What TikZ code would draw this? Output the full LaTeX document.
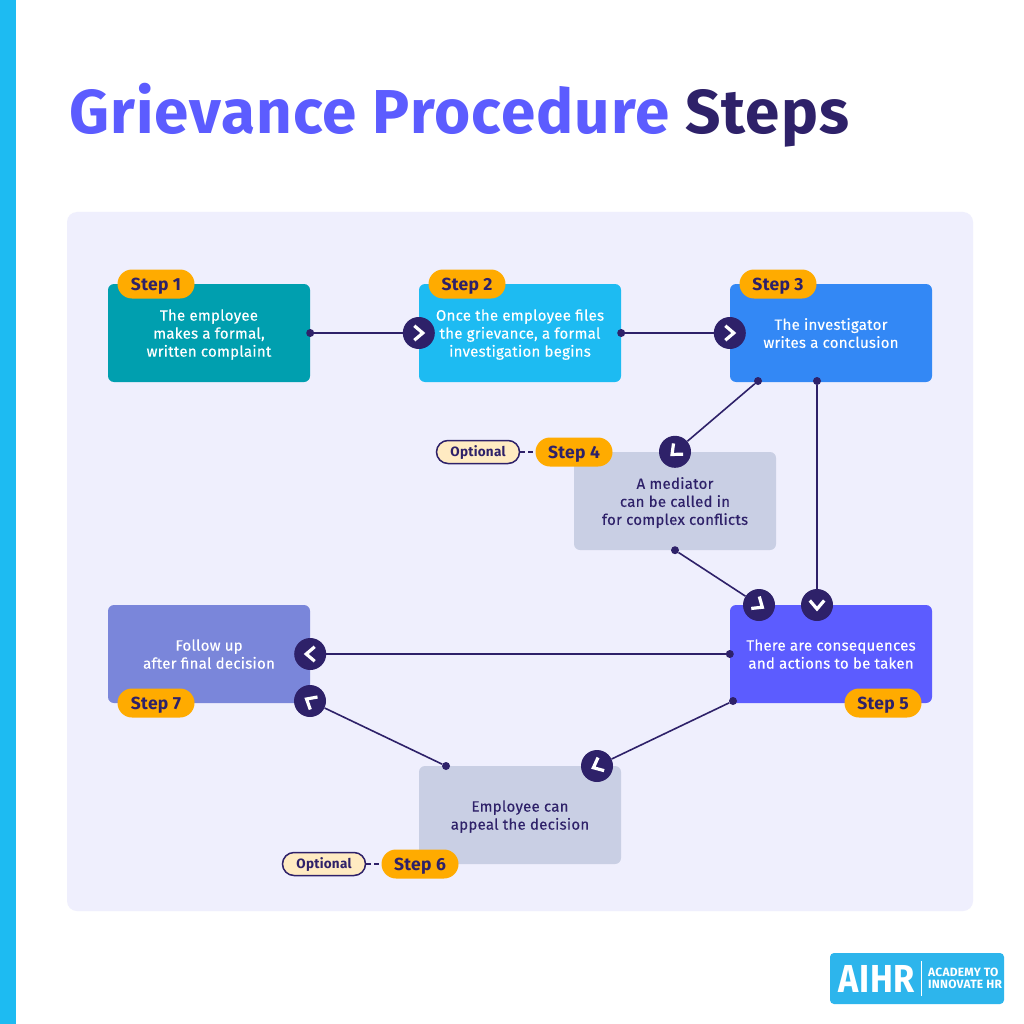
\documentclass[tikz,border=0pt]{standalone}
\usepackage{fontspec}
\setmainfont{Fira Sans}[LetterSpace=1.8]
\usepackage{xcolor}
\usetikzlibrary{positioning}
\definecolor{barblue}{HTML}{1DBBF2}
\definecolor{panel}{HTML}{EFEFFD}
\definecolor{navy}{HTML}{2E2169}
\definecolor{violet0}{HTML}{5C5CFF}
\definecolor{teal0}{HTML}{009FAF}
\definecolor{blue0}{HTML}{3388F5}
\definecolor{grey0}{HTML}{C9CFE4}
\definecolor{peri}{HTML}{7A86DA}
\definecolor{amber}{HTML}{FFAB00}
\definecolor{cream}{HTML}{FFEBC2}
\definecolor{logoblue}{HTML}{2DB5EC}

\begin{document}
\begin{tikzpicture}[x=1pt,y=-1pt,on grid=true,
    stepbox/.style = {rectangle, rounded corners=6pt, minimum width=202pt, minimum height=98pt, inner sep=0pt, align=center, font=\fontsize{15}{18}\selectfont\addfontfeature{FakeBold=0.3}, text=white, text depth=-0.5pt},
    greybox/.style = {stepbox, fill=grey0, text=navy},
    tag/.style = {rectangle, rounded corners=14.5pt, fill=amber, text=navy, minimum width=77pt, minimum height=29pt, inner sep=0pt, text height=14pt, text depth=2pt, font=\fontsize{17.5}{18}\selectfont\bfseries},
    opt/.style = {rectangle, rounded corners=11.5pt, draw=navy, line width=1.5pt, fill=cream, text=navy, minimum width=83pt, minimum height=23pt, inner sep=0pt, text height=10.5pt, text depth=2pt, font=\fontsize{13.5}{15}\selectfont\bfseries},
    dot/.style = {circle, fill=navy, minimum size=8pt, inner sep=0pt},
    chev/.style = {circle, fill=navy, minimum size=32pt, inner sep=0pt},
    link/.style = {draw=navy, line width=1.6pt}]
  \useasboundingbox (0,0) rectangle (1024,1024);
  \fill[white] (0,0) rectangle (1024,1024);
  \fill[barblue] (0,0) rectangle (16,1024);
  \fill[panel,rounded corners=10pt] (67,212) rectangle (973,911);

  \node[anchor=base west,inner sep=0pt,font=\fontsize{62}{66}\selectfont\bfseries,text=violet0] (title) at (69,134) {Grievance Procedure \textcolor{navy}{Steps}};

  \node[stepbox,fill=teal0] (s1) at (209,333) {The employee\\makes a formal,\\written complaint};
  \node[stepbox,fill=barblue] (s2) [right=311pt of s1] {Once the employee files\\the grievance, a formal\\investigation begins};
  \node[stepbox,fill=blue0] (s3) [right=311pt of s2] {The investigator\\writes a conclusion};
  \node[greybox] (s4) at (675,501) {A mediator\\can be called in\\for complex conflicts};
  \node[stepbox,fill=violet0] (s5) [below=321pt of s3] {There are consequences\\and actions to be taken};
  \node[greybox] (s6) at (520,815) {Employee can\\appeal the decision};
  \node[stepbox,fill=peri] (s7) [left=622pt of s5] {Follow up\\after final decision};

  \node[dot] (d1) at (s1.east) {};
  \node[chev] (a1) at (s2.west) {};
  \node[dot] (d2) at (s2.east) {};
  \node[chev] (a2) at (s3.west) {};
  \node[dot] (d3) at (758,381) {};
  \node[chev] (a3) at (s4.north) {};
  \node[dot] (d4) at (817,381) {};
  \node[chev] (a4) at (817,605) {};
  \node[dot] (d5) at (s4.south) {};
  \node[chev] (a5) at (759,605) {};
  \node[dot] (d6) at (s5.west) {};
  \node[chev] (a6) at (s7.east) {};
  \node[dot] (d7) at (733,701) {};
  \node[chev] (a7) at (597,766) {};
  \node[dot] (d8) at (446,766) {};
  \node[chev] (a8) at (310,701) {};

  \draw[link] (d1) -- (a1);
  \draw[link] (d2) -- (a2);
  \draw[link] (d3) -- (a3);
  \draw[link] (d4) -- (a4);
  \draw[link] (d5) -- (a5);
  \draw[link] (d6) -- (a6);
  \draw[link] (d7) -- (a7);
  \draw[link] (d8) -- (a8);

  \foreach \a/\r in {a1/0,a2/0,a3/222,a4/270,a5/326,a6/180,a7/205,a8/150}
    \draw[white,line width=3.2pt] ([shift={(\r+122:8.5pt)}]\a.center) -- ([shift={(\r:4pt)}]\a.center) -- ([shift={(\r-122:8.5pt)}]\a.center);

  \node[tag] (t1) [above left=49pt and 53pt of s1] {Step 1};
  \node[tag] (t2) [above left=49pt and 53pt of s2] {Step 2};
  \node[tag] (t3) [above left=49pt and 53pt of s3] {Step 3};
  \node[tag] (t4) [above left=49pt and 101pt of s4] {Step 4};
  \node[tag] (t5) [below right=49pt and 52pt of s5] {Step 5};
  \node[tag] (t6) [below left=49pt and 100pt of s6] {Step 6};
  \node[tag] (t7) [below left=49pt and 53pt of s7] {Step 7};

  \node[opt] (o4) [left=96pt of t4] {Optional};
  \node[opt] (o6) [left=96pt of t6] {Optional};
  \draw[link,dash pattern=on 5pt off 3pt] (o4) -- (t4);
  \draw[link,dash pattern=on 5pt off 3pt] (o6) -- (t6);

  \node[rectangle,rounded corners=4pt,fill=logoblue,minimum width=174pt,minimum height=51pt] (logo) at (917,978.5) {};
  \node[text=white,font=\fontsize{39}{40}\selectfont\bfseries,inner sep=0pt,xscale=0.88,transform shape] (aihr) at (877,979) {AIHR};
  \coordinate (r1) at (921,961);
  \coordinate (r2) at (921,996);
  \draw[white,line width=0.8pt] (r1) -- (r2);
  \node[anchor=west,text=white,align=left,inner sep=0pt,font=\fontsize{12}{11.5}\selectfont\bfseries] (claim) at (928,978.5) {ACADEMY TO\\INNOVATE HR};
\end{tikzpicture}
\end{document}
